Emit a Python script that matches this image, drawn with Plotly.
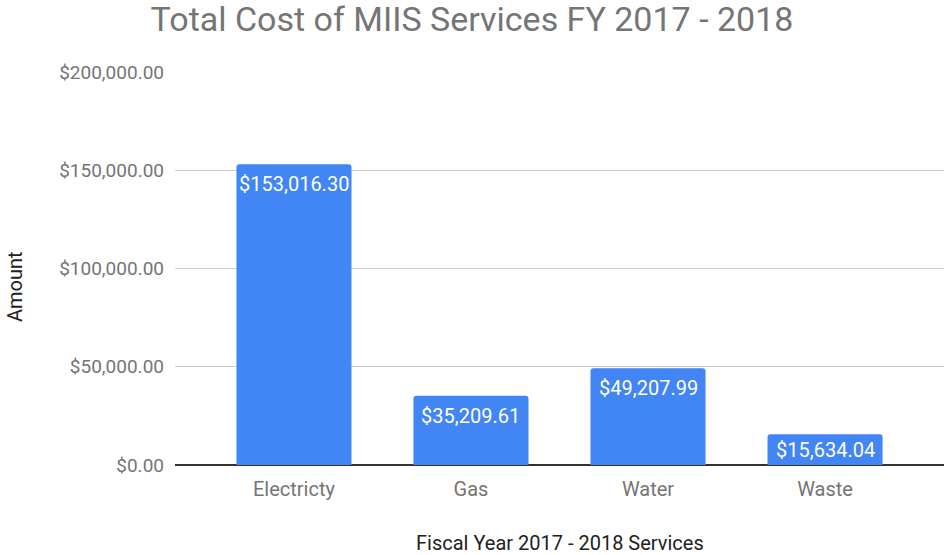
import plotly.graph_objects as go

categories = ["Electricty", "Gas", "Water", "Waste"]
amounts = [153016.30, 35209.61, 49207.99, 15634.04]
labels = ["$153,016.30", "$35,209.61", "$49,207.99", "$15,634.04"]
tick_vals = [0, 50000, 100000, 150000, 200000]
tick_text = ["$0.00", "$50,000.00", "$100,000.00", "$150,000.00", "$200,000.00"]

Y_MAX = 200000
PLOT_H = 555 - 72 - 90

fig = go.Figure(go.Bar(
    x=categories, y=amounts,
    marker=dict(color="#4285f4", line=dict(width=0)),
    width=0.65,
    hoverinfo="skip",
))

annotations = []
for cat, val, lab in zip(categories, amounts, labels):
    bar_px = val / Y_MAX * PLOT_H
    shift = -min(20, bar_px - 15)
    annotations.append(dict(text=lab, x=cat, y=val, xref="x", yref="y", showarrow=False,
                            yanchor="middle", yshift=shift,
                            font=dict(family="Roboto", size=20, color="white")))
annotations += [
    dict(text="Amount", x=-160/769, y=(465-287)/393, xref="paper", yref="paper",
         showarrow=False, textangle=-90, xanchor="center", yanchor="middle",
         font=dict(family="Roboto", size=20, color="#222222")),
    dict(text="Fiscal Year 2017 - 2018 Services", x=(560-175)/769, y=-(543-465)/393,
         xref="paper", yref="paper", showarrow=False, xanchor="center", yanchor="middle",
         font=dict(family="Roboto", size=20, color="#222222")),
]

fig.update_layout(
    width=944, height=555,
    margin=dict(l=175, r=0, t=72, b=90),
    paper_bgcolor="white", plot_bgcolor="white",
    barcornerradius=3,
    showlegend=False,
    font=dict(family="Roboto", color="#757575"),
    title=dict(text="Total Cost of MIIS Services FY 2017 - 2018", x=0.5, xanchor="center",
               y=0.966, yanchor="middle",
               font=dict(family="Roboto", size=34, color="#757575")),
    xaxis=dict(range=[-0.672, 3.672], showgrid=False, zeroline=False, showline=False,
               ticks="", ticklabelstandoff=10, tickfont=dict(size=20, color="#757575")),
    yaxis=dict(range=[0, Y_MAX], tickvals=tick_vals, ticktext=tick_text,
               showgrid=True, gridcolor="#cccccc", gridwidth=1,
               zeroline=True, zerolinecolor="#333333", zerolinewidth=1.5,
               ticks="", ticklabelstandoff=10,
               tickfont=dict(size=19, color="#757575")),
    annotations=annotations,
)

fig.write_html("out.html")
